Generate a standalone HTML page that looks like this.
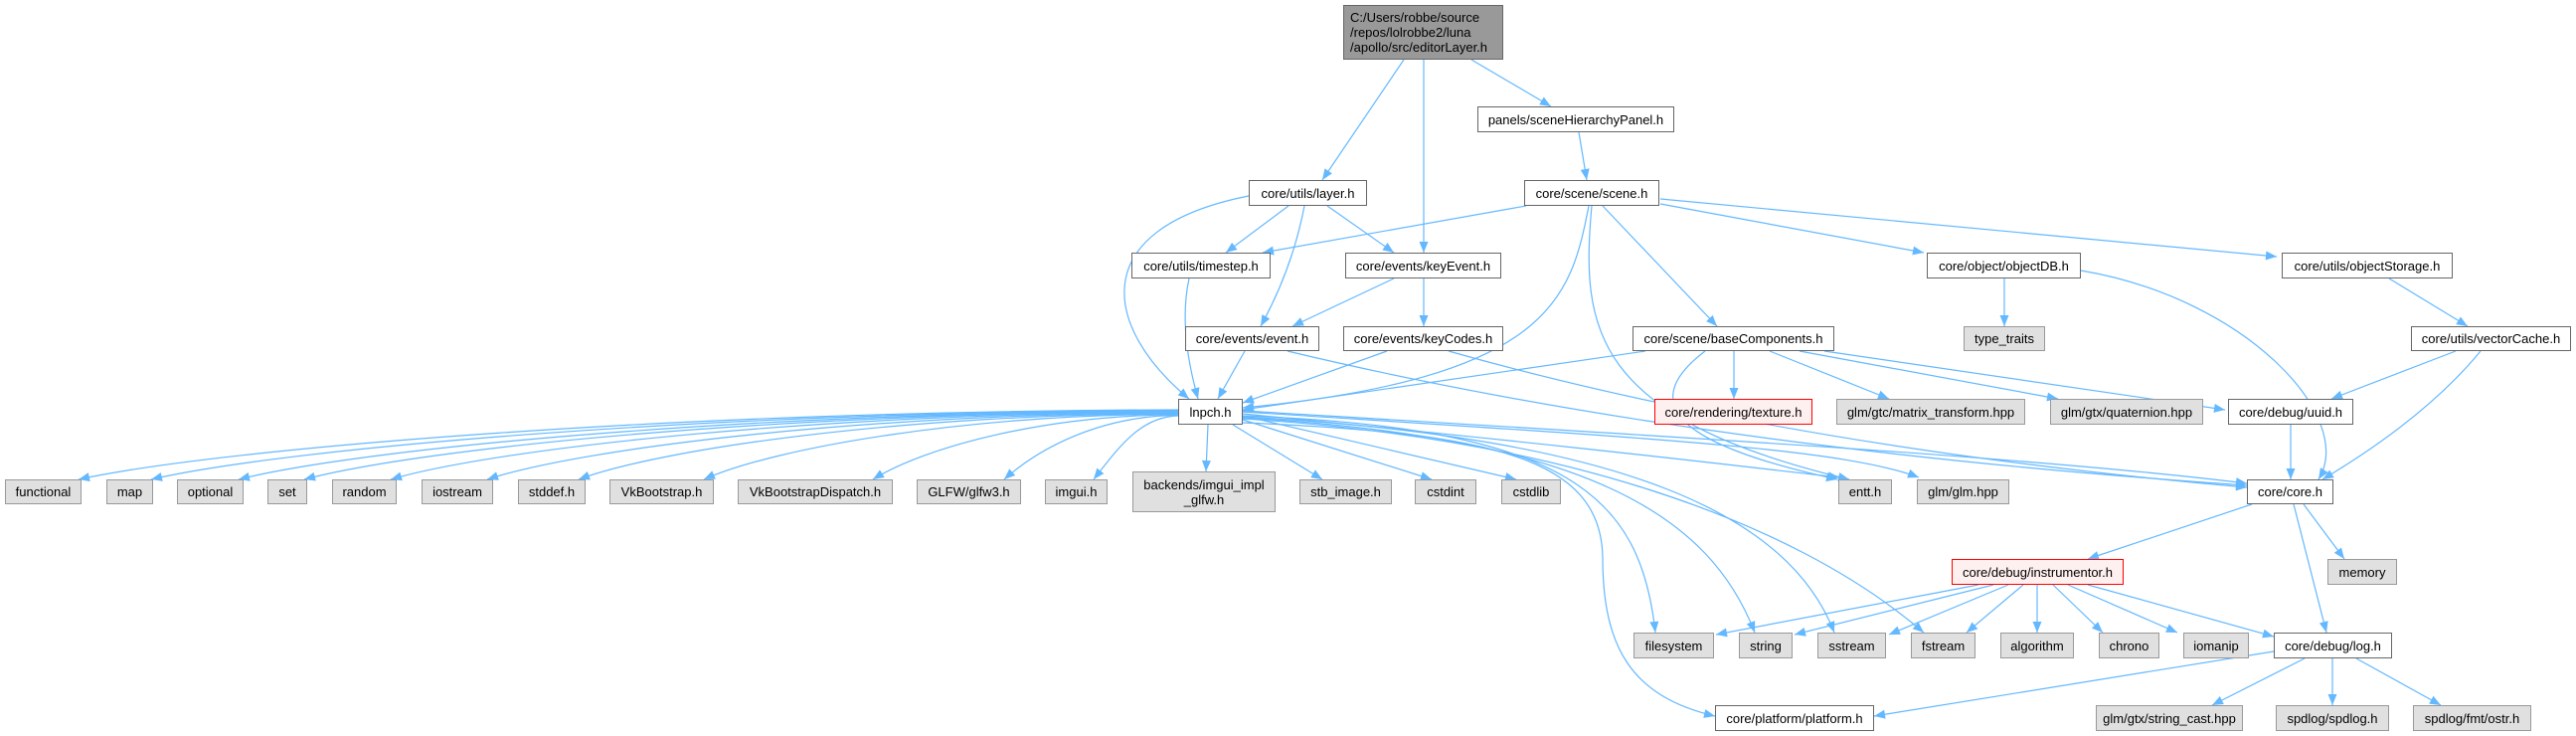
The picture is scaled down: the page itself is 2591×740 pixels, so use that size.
<!DOCTYPE html>
<html><head><meta charset="utf-8">
<style>
html,body{margin:0;padding:0;background:#fff;}
body{width:2591px;height:740px;position:relative;overflow:hidden;font-family:"Liberation Sans",Arial,sans-serif;}
.n{position:absolute;box-sizing:border-box;border:1px solid #666;background:#fff;font-size:13px;color:#000;display:flex;align-items:center;justify-content:center;text-align:center;line-height:15px;white-space:nowrap;}
.g{background:#e0e0e0;border-color:#999;}
.r{background:#fff0f0;border-color:#f00;}
.d{background:#999;border-color:#666;justify-content:flex-start;text-align:left;padding-left:6px;}
svg{position:absolute;left:0;top:0;}
</style></head><body>
<svg id="s" width="2591" height="740"></svg>
<div class="n d" style="left:1351px;top:5px;width:161px;height:55px;">C:/Users/robbe/source<br>/repos/lolrobbe2/luna<br>/apollo/src/editorLayer.h</div>
<div class="n" style="left:1486px;top:107px;width:198px;height:26px;">panels/sceneHierarchyPanel.h</div>
<div class="n" style="left:1256px;top:181px;width:119px;height:26px;">core/utils/layer.h</div>
<div class="n" style="left:1533px;top:181px;width:136px;height:26px;">core/scene/scene.h</div>
<div class="n" style="left:1138px;top:254px;width:140px;height:26px;">core/utils/timestep.h</div>
<div class="n" style="left:1353px;top:254px;width:157px;height:26px;">core/events/keyEvent.h</div>
<div class="n" style="left:1938px;top:254px;width:155px;height:26px;">core/object/objectDB.h</div>
<div class="n" style="left:2295px;top:254px;width:172px;height:26px;">core/utils/objectStorage.h</div>
<div class="n" style="left:1192px;top:328px;width:135px;height:25px;">core/events/event.h</div>
<div class="n" style="left:1351px;top:328px;width:161px;height:25px;">core/events/keyCodes.h</div>
<div class="n" style="left:1642px;top:328px;width:203px;height:25px;">core/scene/baseComponents.h</div>
<div class="n g" style="left:1975px;top:328px;width:82px;height:25px;">type_traits</div>
<div class="n" style="left:2425px;top:328px;width:161px;height:25px;">core/utils/vectorCache.h</div>
<div class="n" style="left:1185px;top:401px;width:65px;height:26px;">lnpch.h</div>
<div class="n r" style="left:1664px;top:401px;width:159px;height:26px;">core/rendering/texture.h</div>
<div class="n g" style="left:1847px;top:401px;width:190px;height:26px;">glm/gtc/matrix_transform.hpp</div>
<div class="n g" style="left:2062px;top:401px;width:154px;height:26px;">glm/gtx/quaternion.hpp</div>
<div class="n" style="left:2241px;top:401px;width:126px;height:26px;">core/debug/uuid.h</div>
<div class="n g" style="left:5px;top:482px;width:77px;height:25px;">functional</div>
<div class="n g" style="left:107px;top:482px;width:47px;height:25px;">map</div>
<div class="n g" style="left:178px;top:482px;width:67px;height:25px;">optional</div>
<div class="n g" style="left:269px;top:482px;width:40px;height:25px;">set</div>
<div class="n g" style="left:334px;top:482px;width:65px;height:25px;">random</div>
<div class="n g" style="left:424px;top:482px;width:72px;height:25px;">iostream</div>
<div class="n g" style="left:521px;top:482px;width:68px;height:25px;">stddef.h</div>
<div class="n g" style="left:613px;top:482px;width:105px;height:25px;">VkBootstrap.h</div>
<div class="n g" style="left:742px;top:482px;width:156px;height:25px;">VkBootstrapDispatch.h</div>
<div class="n g" style="left:922px;top:482px;width:105px;height:25px;">GLFW/glfw3.h</div>
<div class="n g" style="left:1051px;top:482px;width:63px;height:25px;">imgui.h</div>
<div class="n g" style="left:1139px;top:474px;width:144px;height:41px;">backends/imgui_impl<br>_glfw.h</div>
<div class="n g" style="left:1307px;top:482px;width:93px;height:25px;">stb_image.h</div>
<div class="n g" style="left:1423px;top:482px;width:62px;height:25px;">cstdint</div>
<div class="n g" style="left:1510px;top:482px;width:60px;height:25px;">cstdlib</div>
<div class="n g" style="left:1849px;top:482px;width:54px;height:25px;">entt.h</div>
<div class="n g" style="left:1928px;top:482px;width:93px;height:25px;">glm/glm.hpp</div>
<div class="n" style="left:2260px;top:482px;width:87px;height:25px;">core/core.h</div>
<div class="n r" style="left:1963px;top:562px;width:173px;height:26px;">core/debug/instrumentor.h</div>
<div class="n g" style="left:2341px;top:562px;width:70px;height:26px;">memory</div>
<div class="n g" style="left:1643px;top:636px;width:81px;height:26px;">filesystem</div>
<div class="n g" style="left:1749px;top:636px;width:54px;height:26px;">string</div>
<div class="n g" style="left:1828px;top:636px;width:69px;height:26px;">sstream</div>
<div class="n g" style="left:1922px;top:636px;width:65px;height:26px;">fstream</div>
<div class="n g" style="left:2012px;top:636px;width:74px;height:26px;">algorithm</div>
<div class="n g" style="left:2111px;top:636px;width:61px;height:26px;">chrono</div>
<div class="n g" style="left:2196px;top:636px;width:66px;height:26px;">iomanip</div>
<div class="n" style="left:2287px;top:636px;width:119px;height:26px;">core/debug/log.h</div>
<div class="n" style="left:1725px;top:709px;width:160px;height:26px;">core/platform/platform.h</div>
<div class="n g" style="left:2108px;top:709px;width:148px;height:26px;">glm/gtx/string_cast.hpp</div>
<div class="n g" style="left:2289px;top:709px;width:114px;height:26px;">spdlog/spdlog.h</div>
<div class="n g" style="left:2427px;top:709px;width:119px;height:26px;">spdlog/fmt/ostr.h</div>
<script>
var s=document.getElementById('s'),C='#63b8ff',out='';
function E(p){var d='M'+p[0][0]+','+p[0][1];
 if(p.length==2)d+=' L'+p[1][0]+','+p[1][1];
 else if(p.length==3)d+=' Q'+p[1][0]+','+p[1][1]+' '+p[2][0]+','+p[2][1];
 else {for(var i=1;i+2<p.length;i+=3)d+=' C'+p[i][0]+','+p[i][1]+' '+p[i+1][0]+','+p[i+1][1]+' '+p[i+2][0]+','+p[i+2][1];}
 var e=p[p.length-1],q=p[p.length-2],dx=e[0]-q[0],dy=e[1]-q[1],L=Math.hypot(dx,dy)||1;dx/=L;dy/=L;
 var bx=e[0]-dx*11,by=e[1]-dy*11,nx=-dy*4.5,ny=dx*4.5;
 out+='<path d="'+d+'" fill="none" stroke="'+C+'" stroke-width="1.2"/>';
 out+='<polygon points="'+e[0]+','+e[1]+' '+(bx+nx)+','+(by+ny)+' '+(bx-nx)+','+(by-ny)+'" fill="'+C+'"/>';}
E([[1412,60],[1330,181]]);
E([[1432,60],[1432,254]]);
E([[1480,60],[1560,107]]);
E([[1588,133],[1596,181]]);
E([[1296,207],[1233,254]]);
E([[1335,207],[1402,254]]);
E([[1312,207],[1300,270],[1268,328]]);
E([[1256,197],[1090,230],[1110,330],[1196,401]]);
E([[1196,280],[1185,330],[1205,401]]);
E([[1535,207],[1270,254]]);
E([[1598,207],[1580,300],[1560,380],[1250,410]]);
E([[1601,207],[1590,330],[1600,420],[1860,482]]);
E([[1612,207],[1727,328]]);
E([[1670,205],[1935,254]]);
E([[1670,200],[2290,258]]);
E([[1402,280],[1300,328]]);
E([[1432,280],[1432,328]]);
E([[1252,353],[1225,401]]);
E([[1295,353],[1700,450],[2260,488]]);
E([[1395,353],[1250,405]]);
E([[1457,353],[1800,450],[2260,490]]);
E([[2016,280],[2016,328]]);
E([[2093,272],[2260,300],[2370,420],[2332,482]]);
E([[2403,280],[2482,328]]);
E([[2470,353],[2345,401]]);
E([[2495,353],[2440,420],[2336,482]]);
E([[1655,353],[1250,412]]);
E([[1744,353],[1744,401]]);
E([[1780,353],[1900,401]]);
E([[1810,353],[2070,401]]);
E([[1835,353],[2238,412]]);
E([[1715,353],[1640,410],[1700,450],[1848,482]]);
E([[2304,427],[2304,482]]);
E([[2265,507],[2100,562]]);
E([[2317,507],[2358,562]]);
E([[2307,507],[2340,636]]);
E([[1990,588],[1726,638]]);E([[2005,588],[1805,638]]);E([[2020,588],[1900,638]]);E([[2035,588],[1978,636]]);
E([[2049,588],[2049,636]]);E([[2065,588],[2115,636]]);E([[2080,588],[2190,636]]);E([[2100,588],[2287,640]]);
E([[2287,655],[1885,720]]);E([[2318,662],[2225,709]]);E([[2346,662],[2346,709]]);E([[2370,662],[2455,709]]);
var L=[[79,482],[152,482],[240,482],[306,482],[393,482],[490,482],[582,482],[708,482],[878,482],[1010,482],[1100,482]];
L.forEach(function(t,i){var w=1185-t[0];E([[1185,412+i*0.6],[1185-w*0.45,413+i*0.6],[t[0]+w*0.12+15,450],t]);});
E([[1215,427],[1213,474]]);
E([[1240,427],[1330,482]]);E([[1250,422],[1440,482]]);E([[1250,418],[1525,482]]);
E([[1250,416],[1600,450],[1760,470],[1850,480]]);
E([[1250,414],[1650,440],[1850,450],[1930,480]]);
E([[1250,413],[1700,440],[2050,460],[2260,486]]);
E([[1250,418],[1580,430],[1650,500],[1665,636]]);
E([[1250,420],[1600,440],[1720,520],[1765,636]]);
E([[1250,419],[1640,440],[1800,520],[1845,636]]);
E([[1250,421],[1560,440],[1800,520],[1935,636]]);
E([[1250,425],[1500,435],[1610,460],[1612,560],[1612,650],[1640,700],[1725,720]]);
s.innerHTML=out;
</script>
</body></html>
